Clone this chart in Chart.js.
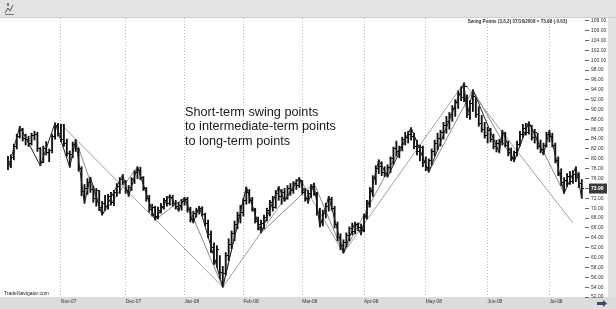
<!DOCTYPE html>
<html><head><meta charset="utf-8">
<script src="https://cdn.jsdelivr.net/npm/chart.js@4.4.1/dist/chart.umd.min.js"></script>
<style>
html,body{margin:0;padding:0;background:#fff;}
#wrap{position:relative;width:616px;height:309px;overflow:hidden;}
#c{position:absolute;left:0;top:0;}
.note{position:absolute;left:185px;top:105px;font-family:"Liberation Sans",Arial,sans-serif;font-size:12.7px;line-height:14.3px;color:#1a1a1a;white-space:nowrap;}
.hdr{position:absolute;right:49px;top:18.5px;font-family:"Liberation Sans",Arial,sans-serif;font-size:4.6px;font-weight:bold;color:#333;white-space:nowrap;line-height:5px;}
.wm{position:absolute;left:4px;top:289.5px;font-family:"Liberation Sans",Arial,sans-serif;font-size:5px;color:#222;white-space:nowrap;line-height:6px;}
</style></head>
<body>
<div id="wrap">
<canvas id="c" width="616" height="309"></canvas>
<div class="note">Short-term swing points<br>to intermediate-term points<br>to long-term points</div>
<div class="hdr" id="hdr"></div>
<div class="wm">TradeNavigator.com</div>
</div>
<script>
// ---- data (daily bars, index 0 = first bar, early Oct 2007) ----
const highs = [80.5,80.8,83.0,85.0,86.6,86.2,85.0,84.6,85.2,85.6,85.4,82.3,82.6,83.5,82.0,85.0,87.3,87.2,87.0,87.0,
84.0,81.6,83.4,83.9,82.2,78.4,74.8,76.0,76.3,74.5,74.0,73.6,71.4,72.6,72.8,73.2,73.6,75.0,76.2,76.8,
75.6,74.6,76.2,77.6,78.4,78.3,76.4,74.2,72.6,70.8,70.4,70.2,71.0,72.0,72.4,72.7,72.6,71.6,71.2,71.8,
72.2,72.2,70.2,69.4,70.0,70.4,70.3,69.0,67.6,65.4,63.0,62.4,60.4,58.2,61.0,63.8,65.4,67.4,69.2,70.6,
72.0,74.3,73.8,72.2,70.0,68.2,67.6,68.6,70.0,71.6,72.4,73.6,74.4,73.8,74.0,74.6,75.0,75.4,75.8,76.2,
75.6,74.0,73.6,74.8,75.1,73.2,70.0,69.6,71.0,72.4,72.2,70.4,67.2,64.8,63.6,65.0,66.2,67.0,67.2,67.0,
66.8,68.8,71.6,74.2,76.6,78.6,79.8,79.4,78.4,78.8,80.4,82.4,83.6,82.6,84.4,85.4,85.6,86.3,85.2,83.8,
82.8,82.6,80.4,80.0,82.0,83.8,85.2,85.8,87.4,88.6,89.4,90.8,92.0,93.8,94.6,95.4,93.0,91.8,94.0,92.4,
90.6,88.8,87.4,86.4,86.2,85.0,83.8,84.0,85.8,85.4,83.6,82.2,81.6,83.6,85.6,87.0,87.2,87.5,86.8,86.0,
85.2,83.8,83.2,85.4,85.8,85.2,83.2,80.4,78.0,76.2,77.0,77.4,77.6,78.4,77.2,75.8];
const lows = [77.8,78.2,79.8,82.0,84.2,83.6,82.8,82.5,82.8,83.8,81.5,78.6,79.2,80.8,79.4,81.2,84.0,84.6,83.5,82.5,
80.5,78.3,80.2,81.5,77.5,72.5,71.0,72.8,73.2,71.2,70.4,69.5,68.6,69.6,69.8,70.6,70.5,72.4,73.0,74.8,
73.0,72.4,73.6,75.0,76.0,75.8,73.6,71.4,69.2,68.4,67.6,67.8,69.0,69.8,70.4,70.6,70.4,69.8,69.4,69.6,
70.6,69.2,67.2,67.0,68.2,68.8,68.4,66.4,64.0,61.0,58.6,58.0,55.8,54.0,56.4,59.4,61.8,63.4,65.8,67.0,
68.4,70.8,71.0,69.4,67.0,65.6,65.0,65.8,67.4,68.4,69.4,70.0,71.6,70.8,71.4,71.8,72.6,73.0,73.8,74.2,
72.8,71.4,71.0,72.2,72.6,68.6,66.2,66.4,68.0,69.4,69.6,66.0,63.4,61.6,60.9,62.2,63.4,64.6,64.8,65.4,
64.6,65.2,67.8,70.2,72.4,74.8,77.0,76.6,76.4,76.3,77.2,78.8,80.6,80.2,81.6,82.8,83.2,83.8,82.0,80.8,
79.6,78.4,77.6,77.3,78.8,80.6,81.8,82.6,84.0,85.2,86.0,87.6,88.6,90.2,91.8,91.6,88.4,88.0,89.6,88.4,
86.6,85.4,84.2,83.2,83.4,82.0,81.4,81.2,82.8,82.4,80.6,79.6,79.4,80.6,82.6,84.4,84.8,85.0,83.8,83.2,
82.0,81.2,80.8,82.4,83.4,82.4,79.2,76.6,74.6,73.0,74.4,74.8,75.0,75.4,74.2,72.0];
const closes = [79.5,80.2,82.6,84.5,85.8,84.2,84.0,83.2,84.8,85.0,82.0,79.3,82.0,81.2,81.6,84.6,86.8,85.2,84.0,83.2,
81.0,80.8,82.9,82.0,78.0,73.4,74.0,75.2,73.8,72.0,73.5,70.2,71.0,70.4,72.3,71.2,73.2,74.4,75.8,75.3,
73.6,74.2,75.8,77.2,77.6,76.2,74.0,72.0,69.8,70.2,68.4,69.6,70.4,71.6,71.0,72.2,71.0,70.4,70.6,71.4,
71.8,69.8,67.8,69.0,69.6,70.0,68.8,66.8,64.6,62.0,59.4,61.6,57.0,56.8,60.4,62.6,64.8,66.6,68.6,69.2,
71.6,73.2,71.6,69.8,67.4,66.6,66.8,68.2,69.6,71.2,70.2,73.0,72.4,73.2,72.0,74.0,73.6,75.0,74.6,75.6,
73.2,72.0,73.0,74.4,73.0,69.2,67.0,69.0,70.4,71.8,70.0,66.6,64.0,62.4,63.0,64.4,65.8,65.2,66.6,66.0,
65.4,68.4,71.0,73.4,76.0,78.0,78.4,77.2,77.0,78.2,80.0,82.0,81.4,82.2,84.0,84.4,85.0,84.6,82.6,81.4,
82.2,79.2,78.2,79.6,81.4,83.2,84.2,85.4,86.8,87.6,89.0,90.2,91.4,93.0,92.4,94.6,89.0,91.2,92.6,89.0,
87.2,86.0,84.8,85.8,84.0,82.6,83.2,83.6,85.2,82.8,81.2,80.0,81.2,83.0,85.0,86.2,85.4,86.8,84.4,85.4,
82.6,81.8,82.8,85.0,84.6,82.8,79.6,77.0,75.2,75.6,76.4,75.4,76.8,76.2,75.0,73.98];

const monthIdx = [18,40,60,80,100,121,142,163,184];
const monthLabels = ['Nov-07','Dec-07','Jan-08','Feb-08','Mar-08','Apr-08','May-08','Jun-08','Jul-08'];
const priceTicks = [52,54,56,58,60,62,64,66,68,70,72,74,76,78,80,82,84,86,88,90,92,94,96,98,100,102,104,106,108];

// short-term swing points
const stIdx = [0,4,11,16,21,23,26,28,32,39,41,44,50,55,58,60,63,65,73,81,86,92,94,99,102,104,106,109,114,118,120,126,129,137,143,155,156,158,167,168,172,177,182,184,189,193,195];
const stVal = [77.8,86.6,78.6,87.3,78.3,83.9,71.0,76.3,68.6,76.8,72.4,78.4,67.6,72.7,69.4,72.2,67.0,70.4,54.0,74.3,65.0,74.4,71.4,76.2,71.0,75.1,66.2,72.4,60.9,67.2,64.6,79.8,76.3,86.3,77.3,95.4,88.4,94.0,81.2,85.8,79.4,87.5,80.8,85.8,73.0,78.4,72.0];
// intermediate-term swing points
const itIdx = [23,32,44,50,60,73,81,86,104,114,137,143,158,172,177,189];
const itVal = [83.9,68.6,78.4,67.6,72.2,54.0,74.3,65.0,75.1,60.9,86.3,77.3,94.0,79.4,87.5,73.0];
// long-term swing points
const ltIdx = [18,73,99,114,155,192];
const ltVal = [87.0,54.0,76.2,60.9,95.4,67.0];

const lastDate = '07/16/2008';
const lastChange = '-0.63';
const studyName = 'Swing Points (3,8,3)';

// ---- build ----
const lastClose = closes[closes.length-1];
document.getElementById('hdr').textContent = studyName + '  ' + lastDate + ' = ' + lastClose.toFixed(2) + ' (' + lastChange + ')';

const pts = (ix, vs) => ix.map((x,k)=>({x:x, y:vs[k]}));

const tick = document.createElement('canvas');
tick.width = 5; tick.height = 1;
(function(){const t=tick.getContext('2d'); t.fillStyle='#000'; t.fillRect(3,0,2,1);})();

const decor = {
  id:'decor',
  beforeDraw(c){
    const g=c.ctx; g.save();
    g.fillStyle='#fff'; g.fillRect(0,0,616,309);
    g.fillStyle='#e3e3e3'; g.fillRect(0,0,616,17);
    g.fillStyle='#cfcfcf'; g.fillRect(0,17,616,1);
    g.fillStyle='#dcdcdc'; g.fillRect(0,297,616,12);
    g.fillStyle='#e2e2e2'; g.fillRect(608,18,8,279);
    g.strokeStyle='#555'; g.lineWidth=1;
    g.beginPath(); g.moveTo(5,13); g.lineTo(8,8); g.lineTo(10,11); g.lineTo(13,5); g.stroke();
    g.fillStyle='#777'; g.fillRect(5,14,9,1); g.fillRect(7,3,2,3);
    g.restore();
  },
  afterDraw(c){
    const g=c.ctx, y=c.scales.y.getPixelForValue(lastClose);
    g.save();
    g.fillStyle='#3a3a3a'; g.fillRect(589,y-5,18,10);
    g.fillStyle='#fff'; g.font='bold 5px "Liberation Sans"'; g.textBaseline='middle'; g.textAlign='left';
    g.fillText(lastClose.toFixed(2), 591, y+0.5);
    g.fillStyle='#3d4a66';
    g.beginPath(); g.moveTo(597,302); g.lineTo(603,302); g.lineTo(603,300); g.lineTo(607,303.5); g.lineTo(603,307); g.lineTo(603,305); g.lineTo(597,305); g.closePath(); g.fill();
    g.restore();
  }
};

new Chart(document.getElementById('c'), {
  data:{
    datasets:[
      {type:'line', label:'long', data:pts(ltIdx,ltVal), borderColor:'#a0a0a0', borderWidth:1, pointRadius:0, tension:0, order:6},
      {type:'line', label:'int', data:pts(itIdx,itVal), borderColor:'#8a8a8a', borderWidth:1, pointRadius:0, tension:0, order:5},
      {type:'bar', label:'range', data:highs.map((h,i)=>({x:i, y:[lows[i], h]})), backgroundColor:'#111', borderWidth:0, barThickness:1.2, order:4},
      {type:'scatter', label:'close', data:closes.map((v,i)=>({x:i, y:v})), pointStyle:tick, pointRadius:2, order:3},
      {type:'line', label:'st', data:pts(stIdx,stVal), borderColor:'#222', borderWidth:1, pointRadius:0, tension:0, order:2}
    ]
  },
  options:{
    responsive:false, animation:false, devicePixelRatio:1,
    layout:{padding:{left:2, top:18, right:0, bottom:0}},
    plugins:{legend:{display:false}, tooltip:{enabled:false}},
    scales:{
      x:{type:'linear', min:-1.014, max:196.1, position:'bottom', offset:false,
        afterBuildTicks(s){ s.ticks = monthIdx.map(v=>({value:v})); },
        afterFit(s){ s.height = 12; s.paddingLeft = 0; s.paddingRight = 0; },
        ticks:{callback:(v,i)=>monthLabels[i], align:'start', autoSkip:false, maxRotation:0, minRotation:0, padding:2, color:'#333', font:{family:'"Liberation Sans"', size:4.8}},
        grid:{color:'#bdbdbd', drawTicks:false, lineWidth:1, offset:false},
        border:{display:false, dash:[1,2]}
      },
      y:{type:'linear', position:'right', min:52, max:108.547,
        afterBuildTicks(s){ s.ticks = priceTicks.map(v=>({value:v})); },
        afterFit(s){ s.width = 31; s.paddingTop = 0; s.paddingBottom = 0; },
        ticks:{callback:v=>Number(v).toFixed(2), autoSkip:false, padding:2, color:'#333', font:{family:'"Liberation Sans"', size:5}},
        grid:{drawOnChartArea:false, drawTicks:true, tickLength:4, tickColor:'#666'},
        border:{display:false}
      }
    }
  },
  plugins:[decor]
});
</script>
</body></html>
